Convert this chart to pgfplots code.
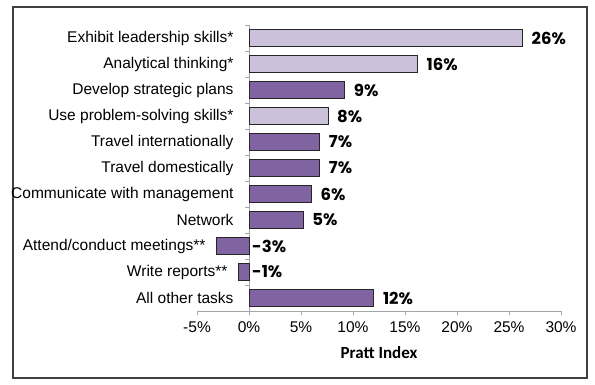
\documentclass[border=0pt]{standalone}
\usepackage{pgfplots}
\pgfplotsset{compat=1.18}
\usepackage{fontspec}
\setmainfont{Liberation Sans}
\newfontfamily\lblfont{Poppins}
\newfontfamily\titlefont{Carlito}
\definecolor{darkp}{HTML}{8064A2}
\definecolor{lightp}{HTML}{CCC1DA}
\definecolor{axgray}{HTML}{A6A6A6}
\begin{document}
\begin{tikzpicture}[x=1bp,y=1bp]
\path (0,0) rectangle (595,384);
\draw[line width=1.3bp, draw=black!75] (13,6) rectangle (587,377);
\begin{axis}[
  at={(197bp,73bp)}, anchor=south west,
  scale only axis, width=364bp, height=286bp,
  xmin=-5, xmax=30, ymin=-0.5, ymax=10.5,
  axis x line=bottom, axis y line=middle,
  axis line style={draw=axgray, line width=0.8bp, -},
  inner axis line style={-},
  hide obscured x ticks=false,
  font=\fontsize{15.5bp}{18bp}\selectfont,
  tick label style={font=\fontsize{15.5bp}{18bp}\selectfont},
  xtick={-5,0,...,30},
  xticklabels={-5\%,0\%,5\%,10\%,15\%,20\%,25\%,30\%},
  xticklabel style={yshift=-3bp},
  tick align=outside,
  major tick length=4bp,
  x tick style={draw=axgray, line width=0.8bp},
  ytick={0,...,10},
  yticklabels={All other tasks, Write reports**\kern6bp, Attend/conduct meetings**\kern28bp, Network, Communicate with management, Travel domestically, Travel internationally, Use problem-solving skills*, Develop strategic plans, Analytical thinking*, Exhibit leadership skills*},
  yticklabel style={anchor=east, xshift=-8bp},
  y tick style={draw=none},
  extra y ticks={-0.5,0.5,...,10.5},
  extra y tick labels={},
  extra y tick style={y tick style={draw=axgray, line width=0.8bp}},
  xlabel={Pratt Index},
  xlabel style={at={(axis description cs:0.5,0)}, anchor=center, yshift=-42bp, font=\titlefont\bfseries\fontsize{17bp}{20bp}\selectfont},
  clip=false,
]
\addplot[xbar, bar width=0.66, bar shift=0pt, fill=darkp, draw=black!85, line width=0.8bp]
  coordinates {(12,0) (-1,1) (-3.1,2) (5.2,3) (6,4) (6.8,5) (6.8,6) (9.2,8)};
\addplot[xbar, bar width=0.66, bar shift=0pt, fill=lightp, draw=black!85, line width=0.8bp]
  coordinates {(7.6,7) (16.2,9) (26.3,10)};
\addplot[draw=none, mark=none, nodes near coords, point meta=explicit symbolic,
  nodes near coords style={anchor=west, xshift=8bp, inner sep=1bp, font=\lblfont\bfseries\fontsize{16.5bp}{19bp}\selectfont}]
  coordinates {(12,0)[12\%] (5.2,3)[5\%] (6,4)[6\%] (6.8,5)[7\%] (6.8,6)[7\%] (7.6,7)[8\%] (9.2,8)[9\%] (16.2,9)[16\%] (26.3,10)[26\%]};
\addplot[draw=none, mark=none, nodes near coords, point meta=explicit symbolic,
  nodes near coords style={anchor=west, xshift=2bp, inner sep=1bp, font=\lblfont\bfseries\fontsize{16.5bp}{19bp}\selectfont}]
  coordinates {(0,1)[-1\%] (0,2)[-3\%]};
\end{axis}
\end{tikzpicture}
\end{document}
